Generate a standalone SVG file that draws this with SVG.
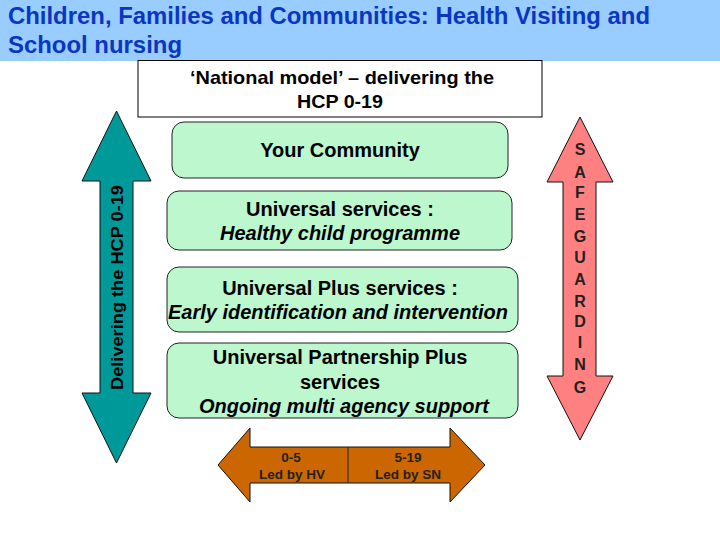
<svg xmlns="http://www.w3.org/2000/svg" width="720" height="540" viewBox="0 0 720 540">
<style>
text{font-family:"Liberation Sans",Arial,sans-serif;font-weight:bold;fill:#000}
.title{font-size:23px;fill:#0a36c2}
.nat{font-family:"Liberation Sans Narrow","Liberation Sans",Arial,sans-serif;font-size:19px;text-anchor:middle}
.box{fill:#bdf7cd;stroke:#222;stroke-width:1}
.bt{font-size:20px;text-anchor:middle}
.it{font-style:italic}
.ar{stroke:#111;stroke-width:1}
.sm{font-size:13.5px;text-anchor:middle;fill:#222}
.sg{font-size:16px;text-anchor:middle;fill:#222}
</style>
<rect x="0" y="0" width="720" height="61" fill="#99ccff"/>
<text class="title" x="8" y="24" textLength="642" lengthAdjust="spacingAndGlyphs">Children, Families and Communities: Health Visiting and</text>
<text class="title" x="8" y="53" textLength="174" lengthAdjust="spacingAndGlyphs">School nursing</text>
<g id="national">
<rect x="138" y="60.5" width="404" height="56.5" fill="#fff" stroke="#000" stroke-width="1"/>
<text class="nat" x="342" y="84" textLength="304" lengthAdjust="spacingAndGlyphs">‘National model’ – delivering the</text>
<text class="nat" x="340" y="108" textLength="86" lengthAdjust="spacingAndGlyphs">HCP 0-19</text>
</g>
<g id="delivering">
<polygon class="ar" fill="#009999" points="116.5,111 151,181 133,181 133,393 151,393 116.5,463 82,393 100,393 100,181 82,181"/>
<text x="0" y="0" font-size="17" text-anchor="middle" textLength="205" lengthAdjust="spacingAndGlyphs" transform="translate(123,287.5) rotate(-90)" fill="#1a1a1a">Delivering the HCP 0-19</text>
</g>
<g id="community">
<rect class="box" x="172" y="122" width="336" height="56" rx="12"/>
<text class="bt" x="340" y="157">Your Community</text>
</g>
<g id="universal">
<rect class="box" x="167" y="191" width="345" height="59" rx="12"/>
<text class="bt" x="340" y="216">Universal services :</text>
<text class="bt it" x="340" y="240">Healthy  child programme</text>
</g>
<g id="universal-plus">
<rect class="box" x="167" y="267" width="351" height="65" rx="12"/>
<text class="bt" x="340" y="295">Universal Plus services :</text>
<text class="bt it" x="338" y="319">Early identification and intervention</text>
</g>
<g id="partnership">
<rect class="box" x="167" y="343" width="351" height="75" rx="12"/>
<text class="bt" x="340" y="364">Universal Partnership Plus</text>
<text class="bt" x="340" y="389">services</text>
<text class="bt it" x="344" y="413">Ongoing multi agency support</text>
</g>
<g id="age-arrow">
<polygon class="ar" fill="#cc6600" points="218,465 250,428 250,447 450,447 450,428 485,465 450,502 450,483 250,483 250,502"/>
<line x1="348" y1="447" x2="348" y2="483" stroke="#222" stroke-width="1"/>
<text class="sm" x="291" y="462">0-5</text>
<text class="sm" x="292" y="479">Led by HV</text>
<text class="sm" x="408" y="462">5-19</text>
<text class="sm" x="408" y="479">Led by SN</text>
</g>
<g id="safeguarding">
<polygon class="ar" fill="#ff8080" points="580,117 613,182 596,182 596,376 613,376 580,440 547,376 563,376 563,182 547,182"/>
<text class="sg" x="580" y="155">S</text>
<text class="sg" x="580" y="178">A</text>
<text class="sg" x="580" y="198">F</text>
<text class="sg" x="580" y="220">E</text>
<text class="sg" x="580" y="242">G</text>
<text class="sg" x="580" y="263">U</text>
<text class="sg" x="580" y="285">A</text>
<text class="sg" x="580" y="307">R</text>
<text class="sg" x="580" y="327">D</text>
<text class="sg" x="580" y="348">I</text>
<text class="sg" x="580" y="370">N</text>
<text class="sg" x="580" y="393">G</text>
</g>
<g id="connectors"></g>
</svg>
